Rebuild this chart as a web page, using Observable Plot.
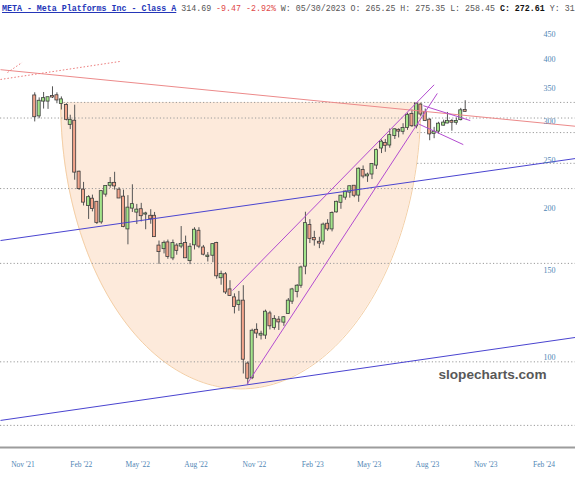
<!DOCTYPE html>
<html><head><meta charset="utf-8">
<script src="https://cdn.jsdelivr.net/npm/d3@7"></script>
<script src="https://cdn.jsdelivr.net/npm/@observablehq/plot@0.6"></script>
<style>
body{margin:0;background:#fff;width:575px;height:480px;overflow:hidden}
#title{font-family:"Liberation Mono",monospace;font-size:8.3px;height:16px;line-height:17px;white-space:nowrap;overflow:hidden;padding-left:2px;color:#555}
#title .sym{color:#2436b8;font-weight:bold;text-decoration:underline}
#title .chg{color:#e04848}
#title b{color:#111}
#chart svg{display:block}
</style></head><body>
<div id="title"><span class="sym">META - Meta Platforms Inc - Class A</span> <span>314.69</span> <span class="chg">-9.47 -2.92%</span> <span>W: 05/30/2023 O: 265.25 H: 275.35 L: 258.45</span> <b>C: 272.61</b> <span>Y: 31</span></div>
<div id="chart"></div>
<script>
// Weekly bars (week start)
const weeks = ["2021-11-29","2021-12-06","2021-12-13","2021-12-20","2021-12-27","2022-01-03","2022-01-10","2022-01-18","2022-01-24","2022-01-31",
"2022-02-07","2022-02-14","2022-02-22","2022-02-28","2022-03-07","2022-03-14","2022-03-21","2022-03-28","2022-04-04","2022-04-11",
"2022-04-18","2022-04-25","2022-05-02","2022-05-09","2022-05-16","2022-05-23","2022-05-31","2022-06-06","2022-06-13","2022-06-21",
"2022-06-27","2022-07-05","2022-07-11","2022-07-18","2022-07-25","2022-08-01","2022-08-08","2022-08-15","2022-08-22","2022-08-29",
"2022-09-06","2022-09-12","2022-09-19","2022-09-26","2022-10-03","2022-10-10","2022-10-17","2022-10-24","2022-10-31","2022-11-07",
"2022-11-14","2022-11-21","2022-11-28","2022-12-05","2022-12-12","2022-12-19","2022-12-27","2023-01-03","2023-01-09","2023-01-17",
"2023-01-23","2023-01-30","2023-02-06","2023-02-13","2023-02-21","2023-02-27","2023-03-06","2023-03-13","2023-03-20","2023-03-27",
"2023-04-03","2023-04-10","2023-04-17","2023-04-24","2023-05-01","2023-05-08","2023-05-15","2023-05-22","2023-05-30","2023-06-05",
"2023-06-12","2023-06-20","2023-06-26","2023-07-03","2023-07-10","2023-07-17","2023-07-24","2023-07-31","2023-08-07","2023-08-14",
"2023-08-21","2023-08-28","2023-09-05","2023-09-11","2023-09-18","2023-09-25","2023-10-02","2023-10-09"];
const opens = [338,308,330,330,337,338.3,326.5,323.3,296,300.5,
237,218,203,209,206,188,214,223,225,218,
211,182,200.5,196.8,199,195,193,193,168,166,
170.5,159,168,168,170,157,169,180,166.5,160,
161,170,145,147,137,132,128,130,97,91,
113.5,111,111,122.5,115,119,117.9,122.8,130,136,
140,153,185,174,171,172,186,182,197,206,
211,216,222,213,239,233,235,245,265.25,271,
269,281,288,286.7,292,310,294,324,313,302,
284,287,295,298,300,299,302.7,316];
const highs = [343,335,343.5,336,352.7,343,336.5,326,309,323.8,
238.2,226,212.5,213,206.8,217,221.8,231.2,236.9,220.5,
218,212.5,223.5,204,205,196.7,199,196.5,172,172,
172.8,172.8,169.9,184,176,170,183,183,168.5,163,
169.5,171,149.5,148.5,143,134.5,136,139.7,98,114.1,
117,113,124.7,124,121.5,121,121,131.6,138,140.4,
153,196.7,190,180,175,187,190,197,207,212,
217,222,222.5,241.7,244,236,246.5,264,275.35,276,
289.8,290,290,297,312,316.7,326.2,326,318,304,
292,299,302,313,303,305,319,330.6];
const lows = [299.5,304,318,317.5,334,326,316.6,301,289,228.3,
217.7,202.5,190.2,197,185.8,186,211,220,218,209.8,
183,169,196.5,185.8,188,181.3,186,175,154.3,162,
158,157,161,166,158.7,154.1,165,166,160.5,156,
155.5,144,140,134.1,133,122.5,124,92.6,88.09,90.2,
109.2,108.5,108.8,113.7,113.6,113.4,115.6,122.3,128,132,
138,147,170,168,166,168.7,179.9,179.5,196,199.4,
208,210,210.5,206,229.9,226,229,240,258.45,260,
265,276,278,282,288,292,290,307,300,274.4,
277,283,294,297,286.8,295,301,313];
const closes = [306.84,329.75,333.79,335.24,336.35,331.79,331.9,303.17,301.71,237.09,
219.55,206.16,210.48,200.06,187.61,216.49,221.82,224.85,222.33,210.18,
184.11,200.47,203.77,198.62,193.54,195.13,190.78,175.57,163.74,170.16,
160.03,170,164.7,169.27,159.1,167.11,180.89,167.96,161.78,160.32,
169.15,146.29,147.27,135.68,133.45,126.76,130.01,99.2,90.79,113.02,
112.05,111.41,123.49,115.9,119.43,118.04,120.34,130.02,136.98,139.37,
151.74,186.53,174.15,173,170.39,185.25,182,195.61,206.01,211.94,
216.1,221.49,212.89,240.32,232.78,233.81,245.64,262.04,272.61,268.62,
281,288.73,286.98,290.53,308.87,294.26,325.48,310.73,301.64,283.25,
285.5,296.38,297.89,300.31,299.08,300.21,315.43,314.69];

// Axis tick values / labels
const yTicks = [100,150,200,250,300,350,400,450];
const xTickDates = ["2021-11-01","2022-02-01","2022-05-01","2022-08-01","2022-11-01","2023-02-01","2023-05-01","2023-08-01","2023-11-01","2024-02-01"];
const xTickLabels = ["Nov '21","Feb '22","May '22","Aug '22","Nov '22","Feb '23","May '23","Aug '23","Nov '23","Feb '24"];

// Horizontal price levels (price, start date)
const levelPrices = [328,305,285,247,219.6,155,98,72.9];
const levelStarts = ["2022-01-09","2021-10-06","2023-07-26","2023-07-26","2021-10-06","2021-10-06","2021-10-06","2021-10-06"];

// Cup (rounded bottom) annotation
const cupLeft = "2022-01-09", cupRight = "2023-07-31", cupTop = 328, cupBottom = 86.4;

// Trendlines [date1, price1, date2, price2]
const blueLines = [["2021-10-06",172.4,"2024-03-31",252.6],["2021-10-06",74.6,"2024-03-31",109.8]];
const redLines = [["2021-10-06",382,"2024-03-31",293.5]];
const redDotted = [["2021-10-06",365,"2022-04-13",397],["2021-10-17",377,"2021-11-09",395]];
const purpleLines = [["2022-10-07",136.6,"2023-08-21",356],["2022-10-30",88.4,"2023-08-26",342],
  ["2023-08-04",323,"2023-10-17",301.4],["2023-07-26",297.3,"2023-10-06",269.5]];

const D = s => new Date(s + "T00:00:00Z");
const xStart = D("2021-10-06"), xEnd = D("2024-03-31");
const dayMs = 864e5;

const candles = weeks.map((w,i)=>({date:D(w), open:opens[i], high:highs[i], low:lows[i], close:closes[i]}));
const toSeg = a => a.map(([d1,p1,d2,p2])=>({x1:D(d1),y1:p1,x2:D(d2),y2:p2}));

// cup points from its parameters
const cL = +D(cupLeft), cR = +D(cupRight), cMid=(cL+cR)/2, cHalf=(cR-cL)/2;
const lt = Math.log(cupTop), lb = Math.log(cupBottom);
const cup = d3.range(0,121).map(i=>{const t=Math.PI*i/120; return {date:new Date(cMid+cHalf*Math.cos(t)), price:Math.exp(lt-(lt-lb)*Math.sin(t))};});

const levels = levelPrices.map((p,i)=>({price:p, x1:D(levelStarts[i]), x2:xEnd}));
const lblColor = "#4f86b5";

const chart = Plot.plot({
  width:575, height:464,
  marginTop:0, marginLeft:0, marginRight:0, marginBottom:33,
  x:{type:"utc", domain:[xStart,xEnd], range:[0,575], axis:null},
  y:{type:"log", domain:[100,450], range:[341,18], axis:null},
  style:{background:"#fff", overflow:"hidden"},
  marks:[
    Plot.areaY(cup, {x:"date", y1:cupTop, y2:"price", fill:"#fdeadb", clip:true}),
    Plot.line(cup, {x:"date", y:"price", stroke:"#f4cfa6", strokeWidth:1, clip:true}),
    Plot.ruleY(levels, {y:"price", x1:"x1", x2:"x2", stroke:"#9a9a9a", strokeWidth:1, strokeDasharray:"1.2,2.2", clip:true}),
    Plot.ruleX(candles, {x:"date", y1:"low", y2:"high", stroke:"#555", strokeWidth:1}),
    Plot.rect(candles, {x1:d=>new Date(+d.date-2.4*dayMs), x2:d=>new Date(+d.date+2.4*dayMs), y1:"open", y2:"close",
      fill:d=>d.close>=d.open?"#a3e58a":"#f3a58c", stroke:"#3c3c3c", strokeWidth:0.8, insetTop:-0.5, insetBottom:-0.5}),
    Plot.link(toSeg(blueLines), {x1:"x1",y1:"y1",x2:"x2",y2:"y2", stroke:"#4a44d0", strokeWidth:1, clip:true}),
    Plot.link(toSeg(redLines), {x1:"x1",y1:"y1",x2:"x2",y2:"y2", stroke:"#ec8a8a", strokeWidth:1, clip:true}),
    Plot.link(toSeg(redDotted), {x1:"x1",y1:"y1",x2:"x2",y2:"y2", stroke:"#ec7a7a", strokeWidth:1, strokeDasharray:"1.5,2", clip:true}),
    Plot.link(toSeg(purpleLines), {x1:"x1",y1:"y1",x2:"x2",y2:"y2", stroke:"#b34cd0", strokeWidth:1, clip:true}),
    Plot.frame({anchor:"bottom", stroke:"#9c9c9c", strokeWidth:2}),
    Plot.text(yTicks, {y:d=>d, text:d=>String(d), frameAnchor:"right", dx:-26, textAnchor:"middle",
      fill:lblColor, fontSize:8, fontFamily:"Liberation Serif, serif"}),
    Plot.text(xTickDates, {x:d=>D(d), text:(d,i)=>xTickLabels[i], frameAnchor:"bottom", dy:19, dx:6,
      fill:lblColor, fontSize:7.5, fontFamily:"Liberation Serif, serif"}),
    Plot.text(["slopecharts.com"], {text:d=>d, frameAnchor:"bottom-right", textAnchor:"end", dx:-29, dy:-69,
      fill:"#585858", fontSize:13.6, fontWeight:"bold", fontFamily:"Liberation Sans, Arial, sans-serif"})
  ]
});
document.getElementById("chart").appendChild(chart);
</script>
</body></html>
